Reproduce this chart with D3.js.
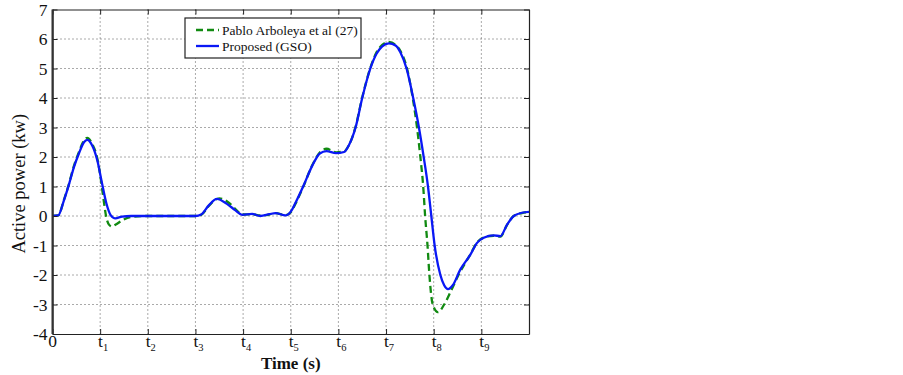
<!DOCTYPE html>
<html>
<head>
<meta charset="utf-8">
<script src="https://cdn.jsdelivr.net/npm/d3@7"></script>
<style>
	body{ margin:0; background:#fff; }
	svg text{ font-family:"Liberation Serif","Times New Roman",serif; fill:#111; }
</style>
</head>
<body>
<div id="chart"></div>
<script>
// time axis is in units of t (t1..t9), power in kW
var xTicks = [0, 1, 2, 3, 4, 5, 6, 7, 8, 9, 10],
	xTickSubs = ["", "1", "2", "3", "4", "5", "6", "7", "8", "9", null],
	yTicks = [-4, -3, -2, -1, 0, 1, 2, 3, 4, 5, 6, 7];

var timeProposed = [0, 0.12, 0.24, 0.34, 0.45, 0.55, 0.66, 0.73, 0.83, 0.94, 1.04, 1.13, 1.22, 1.32, 1.46, 1.65, 2.0, 2.5, 3.0, 3.12,
	3.28, 3.45, 3.66, 3.84, 3.98, 4.19, 4.36, 4.55, 4.68, 4.89, 5.0, 5.1, 5.26, 5.45, 5.61, 5.75, 5.95, 6.12, 6.22, 6.36,
	6.5, 6.67, 6.8, 6.92, 7.06, 7.2, 7.3, 7.43, 7.57, 7.69, 7.79, 7.88, 7.95, 8.02, 8.14, 8.22, 8.3, 8.4, 8.56, 8.77,
	8.91, 9.05, 9.26, 9.4, 9.54, 9.68, 9.85, 10.0];
var powerProposed = [0, 0.02, 0.53, 1.04, 1.66, 2.1, 2.5, 2.58, 2.4, 1.89, 1.1, 0.43, 0.03, -0.08, -0.02, 0, 0, 0, 0, 0.05,
	0.36, 0.58, 0.41, 0.19, 0.04, 0.07, 0.0, 0.06, 0.1, 0.02, 0.15, 0.45, 1.0, 1.7, 2.12, 2.2, 2.13, 2.17, 2.4, 3.0,
	4.0, 5.0, 5.5, 5.75, 5.85, 5.78, 5.55, 5.0, 4.0, 3.0, 2.0, 1.0, 0.0, -1.0, -2.0, -2.35, -2.48, -2.35, -1.81, -1.31,
	-0.91, -0.74, -0.66, -0.68, -0.29, 0.0, 0.11, 0.14];

var timeArboleya = [0, 0.12, 0.24, 0.34, 0.45, 0.55, 0.66, 0.73, 0.83, 0.94, 1.0, 1.06, 1.13, 1.19, 1.25, 1.32, 1.46, 1.65, 2.0, 2.5,
	3.0, 3.12, 3.3, 3.5, 3.7, 3.86, 3.98, 4.19, 4.36, 4.55, 4.68, 4.89, 5.0, 5.1, 5.26, 5.45, 5.61, 5.75, 5.95, 6.12,
	6.22, 6.36, 6.5, 6.67, 6.8, 6.92, 7.06, 7.2, 7.3, 7.44, 7.56, 7.65, 7.72, 7.78, 7.82, 7.87, 7.91, 7.98, 8.09, 8.22,
	8.36, 8.52, 8.77, 8.91, 9.05, 9.26, 9.4, 9.54, 9.68, 9.85, 10.0];
var powerArboleya = [0, 0.02, 0.55, 1.06, 1.7, 2.15, 2.56, 2.65, 2.45, 1.95, 1.4, 0.7, -0.05, -0.3, -0.36, -0.3, -0.15, -0.03, 0, 0,
	0, 0.04, 0.38, 0.6, 0.45, 0.2, 0.05, 0.06, 0.02, 0.05, 0.1, 0.03, 0.13, 0.42, 0.98, 1.72, 2.15, 2.28, 2.16, 2.19,
	2.4, 3.02, 4.02, 5.02, 5.55, 5.8, 5.9, 5.8, 5.6, 5.0, 4.0, 3.0, 2.0, 1.0, 0.0, -1.0, -2.0, -3.0, -3.26, -3.0,
	-2.55, -2.0, -1.3, -0.9, -0.73, -0.67, -0.7, -0.3, 0.0, 0.1, 0.14];

var series = [
	{name: "Pablo Arboleya et al (27)", time: timeArboleya, power: powerArboleya, color: "#118a11", dash: "7,4"},
	{name: "Proposed (GSO)", time: timeProposed, power: powerProposed, color: "#0a18f5", dash: null}
];

var W = 903, H = 375,
	plotL = 52.5, plotR = 529, plotT = 9.5, plotB = 334;

var svg = d3.select("#chart").append("svg")
	.attr("width", W)
	.attr("height", H);

var x = d3.scaleLinear().domain([0, 10]).range([plotL, plotR]),
	y = d3.scaleLinear().domain([-4, 7]).range([plotB, plotT]);

// dotted grid
var grid = svg.append("g").attr("class", "grid");
grid.selectAll(".gx").data(xTicks.slice(1, -1)).enter().append("line")
	.attr("x1", function(d){ return x(d); })
	.attr("x2", function(d){ return x(d); })
	.attr("y1", plotT).attr("y2", plotB)
	.attr("stroke", "#555").attr("stroke-width", 1).attr("stroke-dasharray", "1,3");
grid.selectAll(".gy").data(yTicks.slice(1, -1)).enter().append("line")
	.attr("y1", function(d){ return y(d); })
	.attr("y2", function(d){ return y(d); })
	.attr("x1", plotL).attr("x2", plotR)
	.attr("stroke", "#555").attr("stroke-width", 1).attr("stroke-dasharray", "1,3");

// curves
var line = d3.line()
	.x(function(d){ return x(d[0]); })
	.y(function(d){ return y(d[1]); })
	.curve(d3.curveMonotoneX);

series.forEach(function(s){
	var pts = s.time.map(function(t, i){ return [t, s.power[i]]; });
	svg.append("path")
		.datum(pts)
		.attr("d", line)
		.attr("fill", "none")
		.attr("stroke", s.color)
		.attr("stroke-width", 2.3)
		.attr("stroke-dasharray", s.dash);
});

// box with inward ticks
function noLabel(){ return ""; }
svg.append("g").attr("transform", "translate(0," + plotB + ")")
	.call(d3.axisBottom(x).tickValues(xTicks).tickSizeInner(-5).tickSizeOuter(0).tickFormat(noLabel));
svg.append("g").attr("transform", "translate(0," + plotT + ")")
	.call(d3.axisTop(x).tickValues(xTicks).tickSizeInner(-5).tickSizeOuter(0).tickFormat(noLabel));
svg.append("g").attr("transform", "translate(" + plotL + ",0)")
	.call(d3.axisLeft(y).tickValues(yTicks).tickSizeInner(-5).tickSizeOuter(0).tickFormat(noLabel));
svg.append("g").attr("transform", "translate(" + plotR + ",0)")
	.call(d3.axisRight(y).tickValues(yTicks).tickSizeInner(-5).tickSizeOuter(0).tickFormat(noLabel));
svg.selectAll(".domain").attr("stroke", "#222").attr("stroke-width", 1.2);
svg.selectAll(".tick line").attr("stroke", "#222");
svg.append("line").attr("x1", plotL).attr("x2", plotL).attr("y1", plotT).attr("y2", plotB)
	.attr("stroke", "#333").attr("stroke-width", 2);

// y tick labels
svg.selectAll(".ylab").data(yTicks).enter().append("text")
	.attr("x", plotL - 5)
	.attr("y", function(d){ return y(d) + 6; })
	.attr("text-anchor", "end")
	.attr("font-size", 17.5)
	.text(function(d){ return d; });

// x tick labels with subscripts
xTicks.forEach(function(d, i){
	var sub = xTickSubs[i];
	if(sub === null) return;
	var t = svg.append("text")
		.attr("x", x(d) + (i === 0 ? 0 : 3))
		.attr("y", 347)
		.attr("text-anchor", "middle")
		.attr("font-size", 17.5);
	if(i === 0){
		t.text("0");
	} else {
		t.append("tspan").text("t");
		t.append("tspan").attr("font-size", 10.5).attr("dy", 4).text(sub);
	}
});

svg.append("text")
	.attr("x", x(5))
	.attr("y", 369)
	.attr("text-anchor", "middle")
	.attr("font-size", 17)
	.attr("font-weight", "bold")
	.text("Time (s)");

svg.append("text")
	.attr("transform", "translate(25," + ((plotT + plotB) / 2 + 12) + ") rotate(-90)")
	.attr("text-anchor", "middle")
	.attr("font-size", 18.5)
	.text("Active power (kw)");

// legend
var lg = svg.append("g").attr("transform", "translate(185,18)");
lg.append("rect").attr("width", 176).attr("height", 40)
	.attr("fill", "#fff").attr("stroke", "#222").attr("stroke-width", 1.2);
series.forEach(function(s, i){
	var cy = 12 + i * 16;
	lg.append("line").attr("x1", 11).attr("x2", 34).attr("y1", cy).attr("y2", cy)
		.attr("stroke", s.color).attr("stroke-width", 2.3).attr("stroke-dasharray", s.dash);
	lg.append("text").attr("x", 37).attr("y", cy + 5).attr("font-size", 13.5).text(s.name);
});
</script>
</body>
</html>
